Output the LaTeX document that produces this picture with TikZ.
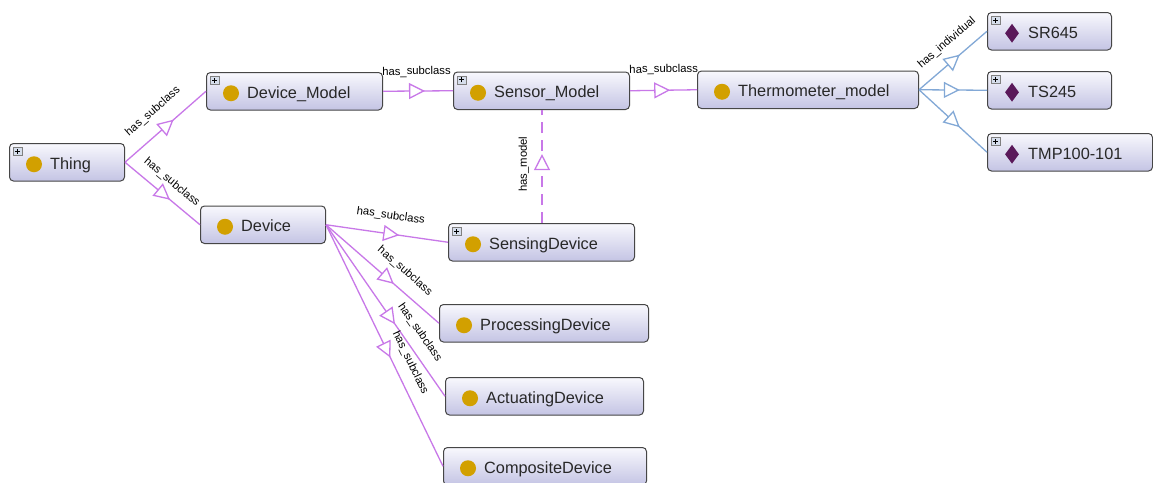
\documentclass[tikz,border=0pt]{standalone}
\usepackage{fontspec}
\setmainfont{Liberation Sans}
\usetikzlibrary{arrows.meta,decorations.markings,shapes.geometric}
\definecolor{subc}{RGB}{200,120,232}
\definecolor{indc}{RGB}{130,168,214}
\definecolor{gold}{RGB}{210,160,0}
\definecolor{indiv}{RGB}{90,25,90}
\definecolor{boxline}{RGB}{70,70,70}
\definecolor{txt}{RGB}{40,40,40}
\definecolor{btop}{RGB}{248,248,253}
\definecolor{bbot}{RGB}{196,196,228}
\definecolor{plusfill}{RGB}{214,222,236}
\tikzset{
  cbox/.style={draw=boxline, line width=1pt, rounded corners=4pt, top color=btop, bottom color=bbot,
    minimum height=37.5pt, inner sep=0pt, anchor=north west},
  ctext/.style={font=\fontsize{16.3}{19}\selectfont, text=txt, anchor=base west, inner sep=0pt},
  clsdot/.style={circle, fill=gold, minimum size=16pt, inner sep=0pt},
  inddot/.style={diamond, fill=indiv, minimum width=14pt, minimum height=19pt, inner sep=0pt},
  plusicon/.style={draw=gray, line width=0.6pt, fill=plusfill, minimum width=9pt, minimum height=8pt,
    inner sep=0pt, anchor=north west,
    path picture={\draw[black, line width=0.9pt]
      (path picture bounding box.center) +(-2.6pt,0) -- +(2.6pt,0)
      (path picture bounding box.center) +(0,-2.6pt) -- +(0,2.6pt);}},
  subedge/.style={draw=subc, line width=1.3pt, postaction={decorate},
    decoration={markings, mark=at position #1 with {\arrow[subc, line width=1.3pt]{Triangle[length=16pt, width=16pt, fill=white]}}}},
  subedge/.default=0.6,
  indedge/.style={draw=indc, line width=1.3pt, postaction={decorate},
    decoration={markings, mark=at position #1 with {\arrow[indc, line width=1.3pt]{Triangle[length=16pt, width=16pt, fill=white]}}}},
  indedge/.default=0.6,
  modedge/.style={color=subc, line width=1.5pt, dash pattern=on 11pt off 7pt, postaction={decorate},
    decoration={markings, mark=at position #1 with {\arrow[subc, solid, line width=1.3pt]{Triangle[length=16pt, width=16pt, fill=white]}}}},
  elab/.style={font=\fontsize{11.3}{13}\selectfont, text=black, sloped, inner sep=0pt},
}
\newcommand\clsnode[6]{%
  \node[cbox, minimum width=#4pt] (#1) at (#2,#3) {};
  \node[#6] (#1-ic) at ([xshift=25pt,yshift=-2pt]#1.west) {};
  \node[ctext] (#1-tx) at ([xshift=41pt,yshift=-7pt]#1.west) {#5};
}
\newcommand\plusmark[1]{\node[plusicon] (#1-pl) at ([xshift=4pt,yshift=-4pt]#1.north west) {};}
\begin{document}
\begin{tikzpicture}[x=1pt,y=-1pt]
\useasboundingbox[fill=white] (0,0) rectangle (1153,482);

\clsnode{thing}{9}{143}{115}{Thing}{clsdot}
\plusmark{thing}
\clsnode{dmodel}{206}{72}{176}{Device\_Model}{clsdot}
\plusmark{dmodel}
\clsnode{device}{200}{205.5}{125}{Device}{clsdot}
\clsnode{smodel}{453}{71.5}{176}{Sensor\_Model}{clsdot}
\plusmark{smodel}
\clsnode{tmodel}{697}{70.5}{221}{Thermometer\_model}{clsdot}
\clsnode{sr}{987}{12}{124}{SR645}{inddot}
\plusmark{sr}
\clsnode{ts}{987}{71}{124}{TS245}{inddot}
\plusmark{ts}
\clsnode{tmp}{987}{133}{165}{TMP100-101}{inddot}
\plusmark{tmp}
\clsnode{sensing}{448}{223}{186}{SensingDevice}{clsdot}
\plusmark{sensing}
\clsnode{proc}{439}{304}{209}{ProcessingDevice}{clsdot}
\clsnode{act}{445}{377}{198}{ActuatingDevice}{clsdot}
\clsnode{comp}{443}{447}{203}{CompositeDevice}{clsdot}

\draw[subedge] (thing.east) -- (dmodel.west) node[elab, pos=0.506, above=13.9pt] {has\_subclass};
\draw[subedge] (thing.east) -- (device.west) node[elab, pos=0.5, above=8.7pt] {has\_subclass};
\draw[subedge] (dmodel.east) -- (smodel.west) node[elab, pos=0.48, above=13.2pt] {has\_subclass};
\draw[subedge] (smodel.east) -- (tmodel.west) node[elab, pos=0.507, above=14.7pt] {has\_subclass};
\draw[subedge] (device.east) -- (sensing.west) node[elab, pos=0.51, above=12pt] {has\_subclass};
\draw[subedge] (device.east) -- (proc.west) node[elab, pos=0.6, above=11pt] {has\_subclass};
\draw[subedge=0.58] (device.east) -- (act.west) node[elab, pos=0.68, above=9.8pt] {has\_subclass};
\draw[subedge=0.55] (device.east) -- (comp.west) node[elab, pos=0.6, above=9.8pt] {has\_subclass};
\draw[modedge=0.61] ([xshift=0.5pt]sensing.north) -- ([xshift=0.5pt]smodel.south) node[elab, pos=0.52, above=12.2pt] {has\_model};
\draw[indedge] (tmodel.east) -- (sr.west) node[elab, pos=0.576, above=11.4pt] {has\_individual};
\draw[indedge] (tmodel.east) -- (ts.west);
\draw[indedge] (tmodel.east) -- (tmp.west);
\end{tikzpicture}
\end{document}
